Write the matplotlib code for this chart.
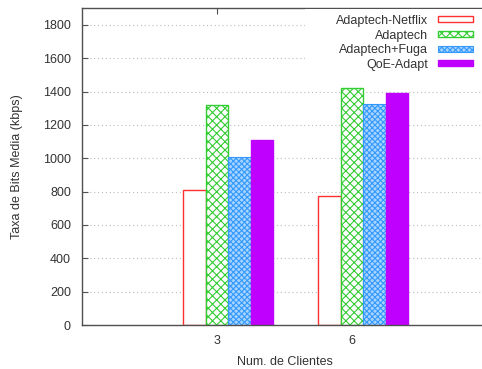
import numpy as np
import matplotlib
matplotlib.use("Agg")
import matplotlib.pyplot as plt
from matplotlib.patches import Rectangle

# data
clientes = ["3", "6"]
series = ["Adaptech-Netflix", "Adaptech", "Adaptech+Fuga", "QoE-Adapt"]
netflix = [812, 776]
adaptech = [1318, 1422]
fuga = [1008, 1324]
qoe = [1108, 1390]
yticks = [0, 200, 400, 600, 800, 1000, 1200, 1400, 1600, 1800]

plt.rcParams['font.family'] = ['Liberation Sans', 'DejaVu Sans']
plt.rcParams['hatch.linewidth'] = 0.8

W, H = 482, 369
fig = plt.figure(figsize=(W / 100, H / 100), dpi=100)

# pixel helpers (origin top-left)
def fx(x):
    return x / W

def fy(y):
    return 1 - y / H

ax_left, ax_right, ax_top, ax_bottom = 82, 487, 8.3, 325
ax = fig.add_axes([fx(ax_left), fy(ax_bottom), fx(ax_right - ax_left), (ax_bottom - ax_top) / H])

styles = [
    dict(facecolor='white', edgecolor='#ff3030', hatch=None, lw=1.0),
    dict(facecolor='white', edgecolor='#33cc33', hatch='xxxx', lw=1.0),
    dict(facecolor='#a8d4ff', edgecolor='#3399ff', hatch='xxxxxx', lw=0.8),
    dict(facecolor='#c000ff', edgecolor='#c000ff', hatch=None, lw=1.0),
]
values = [netflix, adaptech, fuga, qoe]

x = np.arange(len(clientes))
w = 1 / 6
offsets = [-1 / 6, 0, 1 / 6, 2 / 6]
for vals, off, st in zip(values, offsets, styles):
    ax.bar(x + off, vals, width=w, facecolor=st['facecolor'], edgecolor=st['edgecolor'],
           hatch=st['hatch'], linewidth=st['lw'], zorder=2)

ax.set_xlim(-1, 2)
ax.set_ylim(0, 1900)
ax.set_yticks(yticks)
ax.set_xticks(x)
ax.set_xticklabels(clientes)

for yv in yticks[1:]:
    ax.axhline(yv, color='#bcbcbc', linestyle=(0, (1, 2.5)), linewidth=0.8, zorder=1)

axis_col = '#505050'
text_col = '#333333'
for s in ax.spines.values():
    s.set_color(axis_col)
    s.set_linewidth(1.0)
ax.tick_params(axis='y', direction='in', length=4, width=0.8, color=axis_col,
               labelcolor=text_col, labelsize=9, pad=8)
ax.tick_params(axis='x', direction='in', length=4, width=0.8, color=axis_col,
               labelcolor=text_col, labelsize=9, pad=7, bottom=False, top=True)

ax.set_xlabel("Num. de Clientes", fontsize=9, color=text_col, labelpad=7)
ax.set_ylabel("Taxa de Bits Media (kbps)", fontsize=9, color=text_col, labelpad=14)

# opaque key box, gnuplot style
fig.add_artist(Rectangle((fx(305), fy(72)), fx(200), (72 - 9) / H, transform=fig.transFigure,
                         facecolor='white', edgecolor='none', zorder=1))
rows = [19.3, 34.0, 48.7, 63.4]
for name, st, ry in zip(series, styles, rows):
    fig.text(fx(428), fy(ry), name, ha='right', va='center_baseline', fontsize=9,
             color=text_col, zorder=3)
    fig.add_artist(Rectangle((fx(438), fy(ry + 3)), fx(35), 6 / H, transform=fig.transFigure,
                             facecolor=st['facecolor'], edgecolor=st['edgecolor'],
                             hatch=st['hatch'], linewidth=st['lw'], zorder=2))

fig.savefig("out.png", dpi=100)
